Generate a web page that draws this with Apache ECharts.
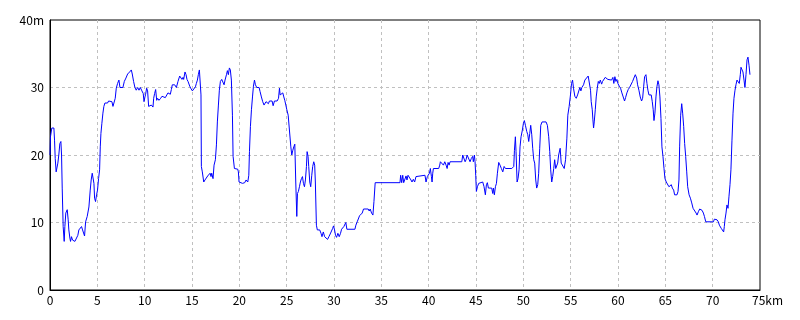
<!DOCTYPE html>
<html>
<head>
<meta charset="utf-8">
<script src="https://cdn.jsdelivr.net/npm/echarts@6/dist/echarts.min.js"></script>
<style>
html,body{margin:0;padding:0;background:#fff;}
#c{width:800px;height:320px;}
</style>
</head>
<body>
<div id="c"></div>
<script>
const distKm = [
0.00,0.05,0.19,0.41,0.48,0.55,0.65,0.76,0.83,0.93,1.04,1.15,1.22,1.29,1.39,1.50,1.57,1.67,1.82,1.92,
1.99,2.10,2.17,2.27,2.38,2.49,2.63,2.77,2.94,3.05,3.23,3.33,3.44,3.54,3.65,3.76,3.93,4.11,4.25,4.35,
4.46,4.53,4.64,4.71,4.81,4.92,5.02,5.13,5.24,5.31,5.38,5.48,5.59,5.69,5.80,5.94,6.08,6.19,6.36,6.54,
6.65,6.82,6.89,7.00,7.14,7.28,7.39,7.70,7.85,8.02,8.20,8.41,8.59,8.69,8.83,8.97,9.11,9.26,9.40,9.54,
9.71,9.85,9.93,10.03,10.10,10.21,10.31,10.42,10.56,10.70,10.88,10.95,11.05,11.16,11.27,11.37,11.51,11.69,11.83,12.01,
12.18,12.36,12.46,12.57,12.71,12.82,12.92,13.17,13.35,13.52,13.70,13.84,13.94,14.05,14.12,14.26,14.37,14.47,14.58,14.65,
14.76,14.86,14.97,15.04,15.18,15.36,15.46,15.57,15.67,15.78,
15.88,15.95,15.99,16.09,16.24,16.37,16.52,16.66,16.80,16.91,17.01,17.08,17.22,17.33,17.47,17.58,17.68,17.79,17.89,18.00,
18.14,18.28,18.39,18.49,18.64,18.74,18.84,18.95,19.05,19.16,19.27,19.34,19.48,19.69,19.83,19.90,19.97,20.18,20.33,20.43,
20.57,20.71,20.82,20.89,21.00,21.07,21.17,21.28,21.39,21.49,21.60,21.70,21.84,22.09,22.19,22.33,22.47,22.61,22.72,22.82,
22.97,23.07,23.18,23.32,23.46,23.57,23.71,23.99,24.14,24.24,24.31,24.49,24.59,24.70,24.80,24.91,25.02,25.16,25.26,25.37,
25.44,25.54,25.65,25.75,25.86,25.96,26.07,26.14,26.24,26.35,26.45,26.56,26.67,26.77,26.88,26.98,27.09,27.16,27.26,27.33,
27.44,27.54,27.65,27.75,27.86,27.96,28.03,28.14,28.24,28.49,28.63,28.73,28.87,29.01,29.18,29.32,29.46,29.60,29.74,29.85,
29.95,30.06,30.16,30.27,30.41,30.55,30.69,30.80,30.94,31.04,31.15,31.25,31.36,32.21,32.31,32.45,32.59,32.70,32.84,32.98,
33.12,33.61,33.72,33.82,33.97,34.11,34.22,34.35,
36.97,37.04,37.15,37.26,37.36,37.50,37.61,37.71,37.82,38.03,38.13,38.24,38.38,38.52,38.66,38.80,39.61,39.72,39.86,39.97,
40.08,40.18,40.29,40.36,40.43,40.50,41.06,41.17,41.24,41.45,41.56,41.70,41.84,41.95,42.05,42.16,42.26,43.50,43.60,43.74,
43.85,43.95,44.06,44.27,44.37,44.51,44.65,44.72,44.83,44.90,44.97,45.04,45.15,45.29,45.43,45.71,45.85,45.99,46.10,46.20,
46.31,46.66,46.77,46.84,46.94,47.05,47.16,47.26,47.40,47.54,47.68,47.83,47.97,48.11,48.78,48.88,48.99,49.06,49.16,49.23,
49.34,49.44,49.55,49.65,49.76,49.90,50.01,50.11,50.22,50.36,50.47,50.57,50.68,50.78,50.89,50.99,51.10,51.20,51.31,51.41,
51.52,51.62,51.73,51.84,51.98,52.40,52.54,52.68,52.79,52.89,53.00,53.10,53.21,53.31,53.42,53.52,53.63,53.73,
53.89,54.00,54.14,54.32,54.46,54.60,54.70,54.84,54.98,55.09,55.20,55.30,55.44,55.59,55.73,55.87,55.97,56.08,56.18,56.36,
56.50,56.71,56.85,56.99,57.10,57.17,57.28,57.35,57.42,57.49,57.60,57.70,57.81,57.92,58.02,58.13,58.27,58.37,58.51,58.65,
58.79,58.93,59.11,59.32,59.46,59.56,59.67,59.78,59.88,59.99,60.13,60.27,60.41,60.55,60.69,60.80,60.94,61.08,61.22,61.40,
61.54,61.68,61.83,61.97,62.07,62.21,62.35,62.49,62.60,62.71,62.81,62.95,63.06,63.16,63.27,63.41,63.51,63.62,63.72,63.80,
63.90,64.01,64.11,64.22,64.32,64.43,64.54,64.64,64.75,64.86,64.96,65.10,65.28,65.38,65.52,65.63,65.74,65.88,65.98,66.23,
66.34,66.44,66.51,66.62,66.73,66.83,66.94,67.04,67.15,67.26,67.36,67.51,67.65,67.79,67.93,68.11,68.25,68.35,68.49,68.63,
68.78,68.88,69.02,69.13,69.27,69.83,69.97,70.08,70.18,70.32,70.46,70.60,70.71,70.81,70.92,71.06,71.16,71.23,71.30,71.41,
71.51,71.62,71.72,71.83,71.93,72.04,72.15,72.25,72.36,72.46,72.57,72.71,72.81,72.92,72.99,73.10,73.20,73.31,73.41,73.52,
73.63,73.73,73.84,73.94
];
const elevM = [
20.0,22.7,24.0,24.0,22.2,19.5,17.5,17.3,18.8,20.0,21.7,22.0,20.0,15.1,9.4,7.2,9.4,11.4,11.9,10.4,
8.9,7.7,7.2,7.9,7.4,7.5,7.2,7.3,8.1,8.9,9.1,9.4,8.9,9.0,8.0,10.1,10.9,12.3,14.8,16.3,
17.3,17.5,15.8,13.6,13.1,14.1,14.8,16.5,17.8,21.2,23.2,24.7,26.2,27.2,27.7,27.9,27.7,28.0,28.1,27.9,
27.2,27.4,28.4,29.9,30.6,31.1,30.0,30.0,30.9,31.4,32.0,32.3,32.6,32.0,30.9,30.0,29.6,30.0,29.6,30.0,
29.5,29.1,27.9,28.6,29.0,29.9,29.5,27.2,27.1,27.4,27.1,28.4,29.1,29.7,28.1,28.4,28.1,28.4,28.7,28.6,
28.5,28.5,29.2,29.1,29.0,29.7,30.4,30.4,30.0,30.9,31.7,31.9,31.2,31.5,31.2,32.3,31.9,31.2,30.9,31.1,
30.2,29.9,30.0,29.5,29.7,30.1,30.6,31.1,31.9,32.6,
32.8,28.9,18.3,17.5,16.0,16.3,16.5,16.9,16.8,17.3,16.8,17.3,16.5,18.5,19.3,21.5,24.9,27.4,29.6,30.9,
31.2,31.4,30.4,31.1,31.9,32.5,31.9,32.9,32.6,31.1,25.9,19.8,18.0,17.8,17.9,17.5,16.0,16.0,15.8,15.6,
15.9,16.3,16.5,16.0,17.0,20.5,24.2,26.7,28.6,30.2,31.1,30.4,30.0,30.0,29.4,28.6,27.9,27.4,27.2,27.9,
27.9,27.6,28.0,27.9,28.0,27.3,28.0,28.0,28.4,29.9,28.9,28.9,29.2,28.6,28.1,27.4,26.7,25.9,25.7,25.9,
21.2,20.0,20.7,21.2,21.6,16.0,10.9,14.3,14.6,15.3,16.0,16.5,16.8,15.8,15.3,16.3,18.3,20.5,19.8,18.3,
16.0,15.3,17.0,18.3,19.0,18.5,16.0,9.6,8.9,8.9,8.4,7.9,8.6,7.9,7.8,7.5,7.9,8.3,8.5,9.1,
9.5,8.9,8.1,7.8,8.4,7.9,8.4,9.0,8.9,9.4,9.6,10.0,9.0,9.0,9.6,10.1,10.1,11.0,11.0,11.4,
12.0,12.0,11.7,12.0,11.4,11.1,13.1,15.9,
15.9,17.0,15.9,17.0,15.9,16.0,16.9,16.3,17.0,17.0,16.3,16.0,16.4,16.0,16.8,17.0,17.0,16.0,16.8,17.0,
17.3,18.0,16.8,16.0,17.3,18.0,18.0,18.5,19.0,19.0,18.5,19.0,18.5,18.0,18.9,18.5,19.0,19.0,20.0,19.8,
19.0,19.3,20.0,20.0,19.0,19.5,19.8,19.0,20.0,19.0,17.0,14.6,15.3,15.8,16.0,16.0,15.3,14.1,15.6,15.9,
15.1,15.1,14.3,15.1,14.1,15.3,15.8,17.3,18.9,18.5,18.0,17.5,18.3,18.0,18.0,17.8,18.3,20.7,22.7,20.5,
16.0,16.5,17.8,21.2,22.7,23.7,24.7,25.1,24.4,23.5,23.0,22.0,23.2,24.4,23.0,21.0,19.3,18.8,16.3,15.1,
15.6,17.3,21.0,24.4,24.9,24.9,24.4,22.7,20.5,17.8,16.0,16.8,18.0,19.3,18.0,18.0,18.8,20.0,
21.0,18.8,19.0,18.0,19.3,22.5,25.9,27.2,28.9,30.6,31.1,29.9,28.7,28.4,28.9,29.1,30.0,29.5,30.0,30.4,
31.1,31.2,31.7,31.5,29.6,27.9,26.7,25.2,24.0,24.9,26.7,28.6,29.9,30.9,30.6,31.1,30.5,30.9,31.1,31.5,
31.7,31.2,31.1,31.1,31.5,30.6,31.6,30.9,31.2,30.6,30.2,29.9,29.2,28.6,28.0,28.5,29.2,29.7,30.0,30.0,
30.9,31.4,31.9,31.4,30.4,29.6,28.6,28.0,28.4,30.1,31.6,31.9,30.6,29.6,28.9,28.7,28.9,27.9,26.7,25.1,
26.2,28.6,30.1,31.0,30.4,28.6,25.4,21.2,19.8,18.0,16.5,16.0,15.9,15.3,15.4,15.6,15.1,14.8,14.1,14.1,
14.6,16.3,21.2,25.9,27.6,26.2,24.2,21.7,19.8,17.5,15.3,14.1,13.6,12.9,12.1,11.9,11.4,11.1,11.6,12.0,
12.2,11.8,11.4,10.9,10.1,10.1,9.9,10.1,10.5,10.3,10.4,10.1,9.6,9.8,9.1,8.9,8.6,9.4,10.4,11.4,
12.6,12.1,13.8,15.6,17.8,22.2,26.2,28.4,29.6,30.4,31.1,31.0,30.6,31.9,33.0,32.8,32.3,31.1,30.0,31.9,
34.1,34.5,33.3,31.9
];
const xTickLabels = ['0','5','10','15','20','25','30','35','40','45','50','55','60','65','70','75km'];
const yTickLabels = ['0','10','20','30','40m'];

const FONT = '"Noto Sans CJK JP", "Liberation Sans", sans-serif';
const chart = echarts.init(document.getElementById('c'), null, {renderer: 'canvas'});
const pts = distKm.map((d, i) => [d, elevM[i]]);
chart.setOption({
  animation: false,
  backgroundColor: '#fff',
  grid: {left: 50, right: 40, top: 20, bottom: 30, show: true, borderColor: '#000', borderWidth: 1, backgroundColor: 'transparent'},
  xAxis: {
    type: 'value', min: 0, max: 75, interval: 5,
    axisLine: {show: true, lineStyle: {color: '#000', width: 1}},
    axisTick: {show: false},
    axisLabel: {
      color: '#000', fontFamily: FONT, fontSize: 12, margin: 4,
      formatter: function (v) {
        const s = xTickLabels[Math.round(v / 5)];
        return v === 75 ? '{pad|}' + s : s;
      },
      rich: {pad: {width: 15}}
    },
    splitLine: {show: true, showMinLine: false, showMaxLine: false, lineStyle: {color: '#c0c0c0', type: [3, 3], width: 1}}
  },
  yAxis: {
    type: 'value', min: 0, max: 40, interval: 10,
    axisLine: {show: true, lineStyle: {color: '#000', width: 1}},
    axisTick: {show: false},
    axisLabel: {
      color: '#000', fontFamily: FONT, fontSize: 12, margin: 6,
      formatter: function (v) { return yTickLabels[Math.round(v / 10)]; }
    },
    splitLine: {show: true, showMinLine: false, showMaxLine: false, lineStyle: {color: '#c0c0c0', type: [3, 3], width: 1}}
  },
  series: [{
    type: 'line', data: pts, symbol: 'none', smooth: false,
    lineStyle: {color: '#0000ff', width: 1}, z: 3
  }]
});
</script>
</body>
</html>
